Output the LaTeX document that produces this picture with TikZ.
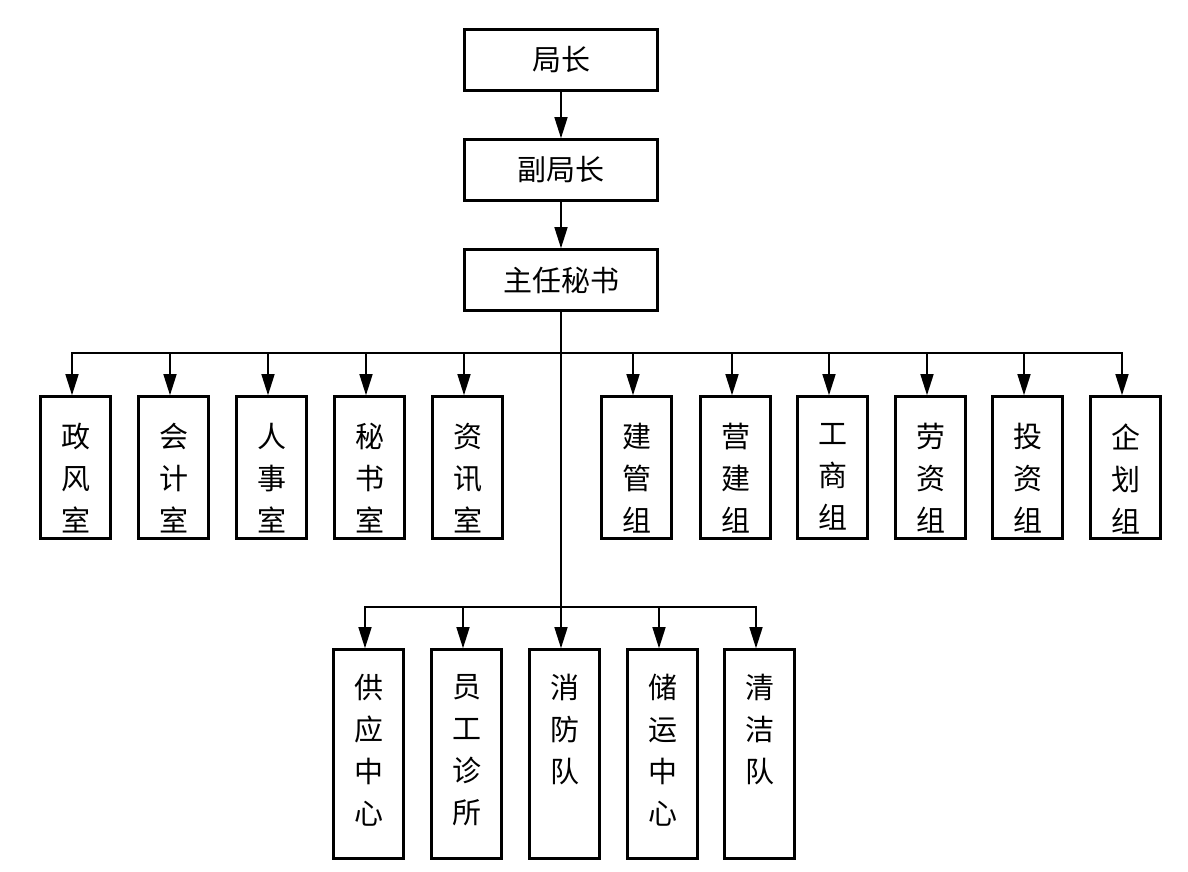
\documentclass[tikz,border=0pt]{standalone}
\usepackage{fontspec}
\setmainfont{Noto Sans CJK SC}
\usetikzlibrary{arrows.meta}
\begin{document}
\begin{tikzpicture}[x=1pt,y=-1pt,
  topbox/.style={draw,line width=2.6pt,minimum width=193pt,minimum height=61pt,inner sep=0pt,
    font=\fontsize{29}{42}\selectfont},
  vbox/.style={draw,line width=2.6pt,minimum width=70pt,inner sep=0pt},
  rowone/.style={vbox,minimum height=142pt},
  rowtwo/.style={vbox,minimum height=209pt},
  vtext/.style={anchor=north,align=center,inner sep=0pt,font=\fontsize{29}{42}\selectfont},
  conn/.style={line width=1.5pt},
  arr/.style={conn,-{Triangle[length=21pt,width=13pt]}}
]
\useasboundingbox (0,0) rectangle (1188,872);
\node[topbox] (jz) at (561,60) {局长};
\node[topbox] (fjz) at (561,170) {副局长};
\node[topbox] (zr) at (561,280) {主任秘书};
\draw[arr] (jz.south) -- (fjz.north);
\draw[arr] (fjz.south) -- (zr.north);
\coordinate (b1) at (561,353);
\coordinate (b2) at (561,607);
\draw[conn] (zr.south) -- (b2);
\foreach \n/\x/\t in {a1/75.5/{政\\风\\室},a2/173.5/{会\\计\\室},a3/271.5/{人\\事\\室},a4/369.5/{秘\\书\\室},a5/467.5/{资\\讯\\室},
  c1/636.5/{建\\管\\组},c2/735.5/{营\\建\\组},c3/832.5/{工\\商\\组},c4/930.5/{劳\\资\\组},c5/1027.5/{投\\资\\组},c6/1125.5/{企\\划\\组}}{
  \node[rowone] (\n) at (\x,467.5) {};
  \node[vtext] at ([yshift=-28pt]\n.north) {\t};
  \draw[arr] (b1) -| ([xshift=-3.5pt]\n.north);
}
\foreach \n/\x/\t in {d1/368.5/{供\\应\\中\\心},d2/466.5/{员\\工\\诊\\所},d3/564.5/{消\\防\\队},d4/662.5/{储\\运\\中\\心},d5/759.5/{清\\洁\\队}}{
  \node[rowtwo] (\n) at (\x,754) {};
  \node[vtext] at ([yshift=-26pt]\n.north) {\t};
  \draw[arr] (b2) -| ([xshift=-3.5pt]\n.north);
}
\end{tikzpicture}
\end{document}
